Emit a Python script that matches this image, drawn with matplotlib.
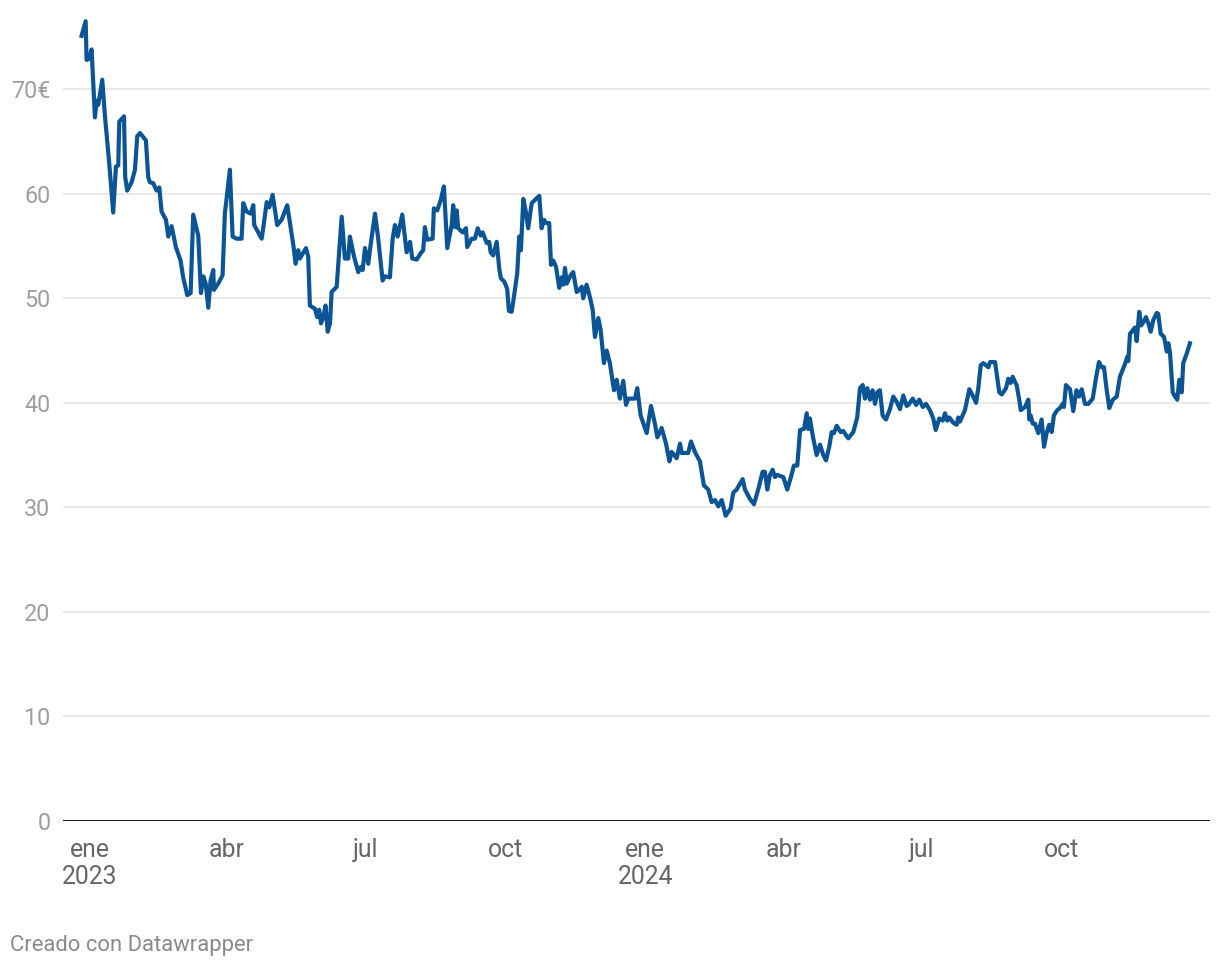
import matplotlib
matplotlib.use("Agg")
import matplotlib.pyplot as plt
import matplotlib.dates as mdates
import pandas as pd

plt.rcParams['font.family'] = ['Roboto', 'DejaVu Sans']

start = pd.Timestamp("2023-01-01")

# days since 1 Jan 2023 and share price (EUR)
days = [
    -5.5, -2.8, -2.2, -0.5, 1.1, 3.3, 4.4, 5.5, 8.1, 9.9, 12.7, 15.3, 17.1, 18.6, 19.3,
    22.4, 23.2, 24.5, 27.4, 29.6, 31.1, 32.9, 36.8, 38.3, 39.4, 41.6, 43.8, 45.6, 47.1,
    50.0, 51.5, 53.7, 56.5, 59.6, 61.3, 64.0, 66.2, 67.9, 71.2, 73.0, 74.5, 76.1, 77.8,
    79.3, 81.1, 81.5, 84.3, 87.2, 88.7, 92.0, 93.8, 96.4, 99.7, 100.8, 103.0, 105.6,
    107.4, 108.0, 112.9, 114.4, 116.2, 117.9, 120.1, 123.1, 126.0, 129.7, 133.7, 135.2,
    136.9, 138.0, 142.0, 143.5, 144.6, 147.9, 149.4, 150.7, 151.9, 153.4, 154.9, 156.3,
    157.8, 158.9, 162.2, 165.5, 167.6, 169.8, 170.9, 173.6, 176.4, 178.2, 179.3, 180.8,
    183.0, 184.5, 187.4, 189.5, 192.4, 193.9, 197.2, 199.0, 200.5, 202.3, 205.3, 206.6,
    208.2, 210.4, 211.9, 214.8, 217.4, 219.1, 220.2, 221.7, 225.3, 226.1, 228.3, 230.6,
    232.7, 234.9, 237.8, 238.8, 240.0, 241.1, 242.1, 245.0, 247.2, 248.0, 250.9, 253.1,
    254.9, 256.9, 258.2, 260.8, 262.5, 263.4, 265.1, 267.4, 269.1, 270.2, 272.4, 274.3,
    275.4, 277.2, 278.7, 280.9, 282.2, 283.3, 284.9, 286.4, 288.1, 290.4, 295.4, 296.9,
    298.5, 299.8, 301.9, 303.1, 304.6, 306.4, 308.5, 310.1, 311.2, 312.3, 313.4, 316.0,
    317.7, 320.0, 321.7, 323.3, 324.3, 326.5, 328.7, 330.5, 332.0, 334.2, 335.7, 337.9,
    339.7, 341.8, 344.5, 346.3, 348.4, 350.6, 352.4, 353.9, 358.3, 359.8, 362.0, 366.0,
    368.8, 371.4, 373.0, 375.8, 378.7, 380.9, 382.4, 385.7, 387.9, 389.0, 393.3, 395.1,
    397.7, 401.0, 403.6, 406.5, 408.7, 410.9, 413.1, 415.3, 417.9, 421.2, 422.9, 425.1,
    429.1, 430.6, 433.9, 436.5, 439.3, 442.2, 443.7, 445.3, 447.0, 448.8, 450.3, 451.8,
    455.8, 458.4, 460.6, 462.8, 465.0, 466.8, 469.4, 471.2, 472.2, 473.3, 475.1, 477.7,
    479.9, 482.1, 483.9, 486.0, 487.6, 489.1, 490.9, 493.5, 495.2, 498.5, 501.8, 504.4,
    506.2, 508.0, 509.5, 511.0, 512.8, 514.5, 516.1, 517.6, 519.3, 521.1, 523.3, 525.9,
    528.1, 530.3, 532.5, 534.7, 536.9, 538.0, 540.9, 543.1, 545.2, 547.5, 549.6, 552.2,
    554.4, 556.0, 558.3, 560.6, 562.1, 563.6, 564.9, 567.5, 569.8, 570.8, 571.9, 575.2,
    578.1, 580.3, 582.5, 584.0, 585.6, 587.3, 590.6, 591.7, 595.0, 597.8, 599.4, 602.2,
    603.7, 605.3, 606.6, 608.1, 609.2, 610.9, 611.9, 614.7, 616.9, 617.5, 618.4, 619.8,
    621.3, 623.4, 625.6, 627.2, 628.9, 630.6, 632.2, 633.7, 635.9, 637.7, 639.4, 640.3,
    641.6, 644.3, 646.4, 648.5, 650.2, 652.0, 654.1, 656.3, 659.2, 661.4, 663.3, 665.1,
    666.6, 668.4, 670.1, 672.4, 675.0, 677.1, 680.4, 681.9, 682.6, 683.7, 685.9, 687.0,
    688.1, 689.8, 691.0, 692.9, 694.2, 695.8, 697.3, 699.0, 701.3, 702.3, 703.9, 706.1,
    707.9, 708.9, 710.0, 711.8, 713.3, 714.8, 716.1, 717.7, 718.7, 721.0, 723.1,
]
price = [
    75.1, 76.5, 72.8, 72.9, 73.8, 67.3, 68.9, 68.5, 70.9, 67.4, 62.9, 58.2, 62.6, 62.7, 66.9,
    67.4, 61.6, 60.3, 61.1, 62.3, 65.5, 65.8, 65.1, 61.6, 61.1, 61.0, 60.3, 60.6, 58.3,
    57.5, 55.9, 56.9, 54.9, 53.6, 52.0, 50.3, 50.5, 58.0, 56.0, 50.5, 52.1, 51.4, 49.1,
    51.7, 52.7, 50.8, 51.4, 52.2, 58.1, 62.3, 55.9, 55.7, 55.7, 59.1, 58.3, 58.1,
    58.9, 57.0, 55.7, 57.2, 59.2, 58.7, 59.9, 57.0, 57.5, 58.9, 55.1, 53.3,
    54.6, 53.8, 54.8, 54.0, 49.3, 49.0, 48.2, 48.9, 47.6, 48.2, 49.3, 46.8,
    47.6, 50.6, 51.1, 57.8, 53.8, 53.8, 55.9, 54.0, 52.5, 53.0, 52.7, 54.8,
    53.3, 55.1, 58.1, 55.7, 51.7, 52.1, 52.0, 55.7, 57.0, 55.9, 58.0, 56.4,
    54.4, 55.4, 53.8, 53.7, 54.3, 54.6, 56.8, 55.6, 55.7, 58.6, 58.4, 59.4,
    60.7, 54.8, 57.0, 58.9, 56.8, 58.4, 56.7, 56.3, 56.7, 54.9, 55.7, 55.7,
    56.7, 56.0, 56.3, 55.3, 55.4, 54.4, 54.1, 55.4, 52.8, 51.9, 51.6, 50.9,
    48.8, 48.7, 50.1, 52.4, 55.9, 54.6, 59.5, 58.4, 56.7, 59.1, 59.8, 56.7,
    57.5, 57.2, 57.2, 53.2, 53.6, 53.0, 51.0, 52.0, 51.3, 52.9, 51.4, 52.2,
    52.5, 50.6, 50.8, 51.1, 50.0, 51.3, 50.1, 48.9, 46.3, 48.1, 47.0, 43.8,
    45.0, 43.8, 41.2, 42.2, 40.4, 42.1, 39.8, 40.4, 40.4, 41.4, 38.8, 37.1,
    39.7, 38.0, 36.7, 37.6, 36.1, 34.4, 35.3, 34.7, 36.1, 35.2, 35.2, 36.3,
    35.3, 34.4, 32.1, 31.7, 30.5, 30.7, 30.1, 30.7, 29.2, 29.9, 31.4, 31.7,
    32.7, 31.7, 30.8, 30.3, 31.7, 33.4, 33.4, 31.7, 33.1, 33.6, 32.9, 33.1,
    32.9, 31.7, 32.8, 34.0, 34.0, 37.4, 37.5, 39.0, 37.5, 38.5, 36.9, 35.0,
    36.0, 35.0, 34.5, 35.8, 37.2, 37.1, 37.8, 37.2, 37.3, 36.6, 37.2, 38.6,
    41.4, 41.7, 40.4, 41.4, 40.3, 41.2, 39.9, 41.0, 41.2, 38.8, 38.4, 39.4,
    40.6, 40.1, 39.4, 40.7, 39.7, 39.8, 40.4, 39.8, 40.3, 39.6, 39.9, 39.3,
    38.5, 37.4, 38.5, 38.3, 39.0, 38.3, 38.6, 38.1, 37.9, 38.6, 38.2, 39.3,
    41.3, 40.7, 40.0, 41.4, 43.6, 43.8, 43.4, 43.9, 43.9, 41.0, 40.8, 41.4,
    42.3, 41.9, 42.5, 42.0, 41.7, 40.3, 39.3, 39.6, 40.3, 38.4, 38.8, 38.0,
    38.0, 37.1, 38.4, 35.8, 37.1, 37.9, 37.2, 38.8, 39.3, 39.5, 39.9, 39.6,
    41.7, 41.3, 39.2, 41.2, 40.6, 41.3, 39.9, 39.9, 40.4, 42.4, 43.9, 43.4,
    43.4, 41.2, 39.5, 40.3, 40.6, 42.5, 43.7, 44.4, 44.0, 46.6, 47.0, 47.2,
    45.9, 48.7, 47.4, 47.8, 48.2, 47.6, 46.8, 47.9, 48.6, 48.5, 46.6, 46.3,
    44.9, 45.7, 44.8, 41.0, 40.6, 40.3, 42.2, 41.0, 43.8, 44.7, 45.7,
]

y_ticks = [0, 10, 20, 30, 40, 50, 60, 70]
y_labels = ["0", "10", "20", "30", "40", "50", "60", "70€"]
x_ticks = ["2023-01-01", "2023-04-01", "2023-07-01", "2023-10-01",
           "2024-01-01", "2024-04-01", "2024-07-01", "2024-10-01"]
x_labels = ["ene\n2023", "abr", "jul", "oct", "ene\n2024", "abr", "jul", "oct"]

dates = start + pd.to_timedelta(days, unit="D")

fig = plt.figure(figsize=(12.2, 9.68), dpi=100)
ax = fig.add_axes([63 / 1220, 147 / 968, 1147 / 1220, 805 / 968])

for y in y_ticks[1:]:
    ax.axhline(y, color="#e3e3e3", lw=1.1, zorder=1)
ax.axhline(0, color="#1a1a1a", lw=1.5, zorder=3)

ax.plot(dates, price, color="#0b5596", lw=3.0, solid_joinstyle="round", zorder=4)

ax.set_ylim(0, 77)
ax.set_xlim(start + pd.Timedelta(days=-17.7), start + pd.Timedelta(days=736.3))

ax.set_yticks(y_ticks)
ax.set_yticklabels(y_labels)
ax.set_xticks(pd.to_datetime(x_ticks))
ax.set_xticklabels(x_labels, linespacing=1.2)

ax.tick_params(axis="y", length=0, pad=9, labelsize=16.8, labelcolor="#9e9e9e")
ax.tick_params(axis="x", length=0, pad=12, labelsize=17.8, labelcolor="#666666")

for s in ax.spines.values():
    s.set_visible(False)

fig.text(10 / 1220, 1 - 946 / 968, "Creado con Datawrapper", fontsize=15.8,
         color="#8a8a8a", va="center", ha="left")

fig.savefig("out.png", dpi=100)
